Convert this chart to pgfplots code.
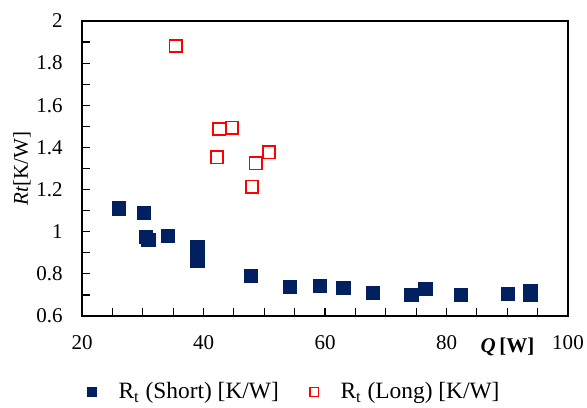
\documentclass[border=0pt]{standalone}
\usepackage{pgfplots}
\pgfplotsset{compat=1.18}
\usepackage{fontspec}
\setmainfont{Liberation Serif}
\definecolor{navy}{HTML}{002060}

\pgfplotstableread{
q rt
26.1 1.111
30.2 1.090
30.5 0.976
30.9 0.961
34.1 0.981
39.0 0.926
39.0 0.895
39.0 0.864
47.8 0.791
54.2 0.739
59.2 0.742
63.0 0.734
67.9 0.709
74.2 0.700
76.5 0.728
82.4 0.700
90.1 0.704
93.8 0.700
93.8 0.718
}\shortdata

\pgfplotstableread{
q rt
35.4 1.881
42.6 1.487
44.7 1.494
42.2 1.353
48.6 1.325
50.8 1.377
48.0 1.214
}\longdata

\begin{document}
\begin{tikzpicture}
\begin{axis}[
    width=243pt, height=147.5pt, scale only axis,
    xmin=20, xmax=100, ymin=0.6, ymax=2,
    xtick={20,40,60,80,100},
    minor xtick={25,30,35,45,50,55,65,70,75,85,90,95},
    ytick={0.6,0.8,1,1.2,1.4,1.6,1.8,2},
    minor ytick={0.7,0.9,1.1,1.3,1.5,1.7,1.9},
    xtick pos=bottom, ytick pos=left,
    tick align=inside,
    major tick length=4pt, minor tick length=4pt,
    every tick/.style={black, line width=0.6pt},
    axis line style={black, line width=0.8pt},
    /pgf/number format/assume math mode=true,
    ticklabel style={font=\fontsize{10.5}{12}\selectfont},
    xticklabel style={anchor=base, inner sep=0pt, yshift=-16.5pt},
    yticklabel style={anchor=east, inner sep=0pt, xshift=-9.5pt},
    ylabel={\textit{Rt}[K/W]},
    ylabel style={at={(rel axis cs:-0.1235,0.5)}, anchor=center,
        font=\fontsize{10.5}{12}\selectfont},
    xlabel={\textbf{\textit{Q}\,[W]}},
    xlabel style={at={(rel axis cs:0.8755,0)}, anchor=base, yshift=-18pt,
        font=\fontsize{10.5}{12}\selectfont},
    legend columns=2,
    legend style={draw=none, inner sep=0pt, at={(rel axis cs:0.0103,-0.2576)},
        anchor=west, font=\fontsize{11.7}{13}\selectfont,
        /tikz/every even column/.append style={column sep=13.5pt}},
    legend cell align=left,
]
\addplot[only marks, mark=square*, mark size=3.35pt, draw=navy, fill=navy,
    mark options={draw=navy, fill=navy},
    legend image code/.code={\draw[mark size=2.3pt] plot coordinates {(0pt,0pt)};}]
    table[x=q, y=rt] {\shortdata};
\addlegendentry{\hspace{9pt}R\textsubscript{t} (Short) [K/W]}
\addplot[only marks, mark=square, mark size=3.1pt, red,
    mark options={line width=0.85pt},
    legend image code/.code={\draw[mark size=2.2pt] plot coordinates {(0pt,0pt)};}]
    table[x=q, y=rt] {\longdata};
\addlegendentry{\hspace{9pt}R\textsubscript{t} (Long) [K/W]}
\end{axis}
\pgfresetboundingbox
\path[use as bounding box] ([shift={(-41pt,-45.5pt)}]current axis.south west)
    rectangle ([shift={(9.5pt,10.5pt)}]current axis.north east);
\end{tikzpicture}
\end{document}
